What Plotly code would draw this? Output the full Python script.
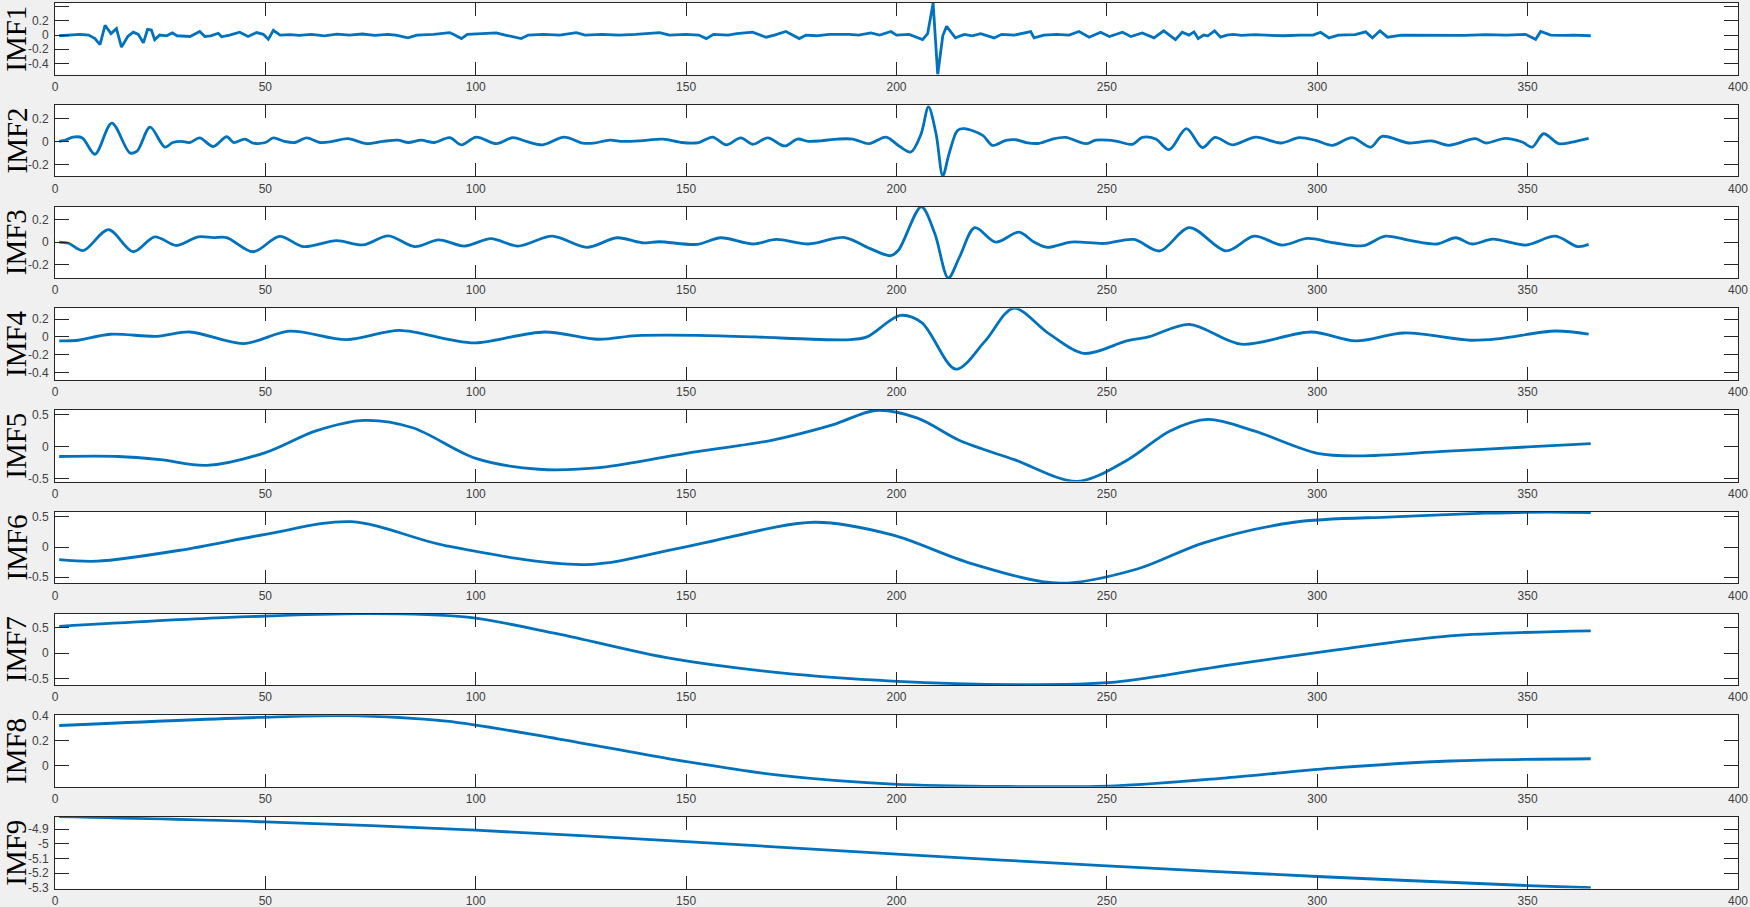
import plotly.graph_objects as go
from plotly.subplots import make_subplots

# ---- data (day index vs IMF amplitude) ----
imf_names = ["IMF1", "IMF2", "IMF3", "IMF4", "IMF5", "IMF6", "IMF7", "IMF8", "IMF9"]
x_ticks = [0, 50, 100, 150, 200, 250, 300, 350, 400]

imf1_x = [1, 4, 6, 8, 9.5, 10.7, 11.9, 13.3, 14.6, 15.8, 17.3, 18.6, 19.8, 21, 22, 22.9, 23.7, 24.9,
          26.5, 27.9, 29, 32.1, 34.4, 35.6, 37, 38.8, 39.6, 41.5, 43.9, 45.9, 47.9, 49.5, 50.7, 51.9,
          53.5, 56, 58, 61, 64, 67, 70, 73, 76, 79, 81, 83.9, 86, 90, 93.8, 95, 96.6, 98, 101, 104.9,
          107, 110.8, 112.5, 116, 120, 123.9, 126, 130, 134, 138, 143.7, 146, 150, 153, 154.8, 156.5,
          160, 162, 165.8, 169, 171, 173.7, 176.9, 178.5, 181, 184, 188.8, 191, 193.9, 196, 198.7, 200,
          203, 206.2, 207.4, 208.7, 209.8, 211, 211.9, 214, 216.1, 218, 220, 223.2, 225, 228, 231.9,
          232.7, 235, 238, 241, 243.4, 245.8, 248.5, 250.6, 253.7, 255.7, 258.4, 261.2, 263.5, 266.3,
          267.9, 269.5, 270.7, 271.7, 273, 274, 275.6, 277, 278.5, 280, 282, 285, 289, 292, 296, 299,
          300.8, 302.8, 305, 309, 311.5, 313.1, 314.9, 316.7, 320, 325, 330, 335, 340, 345, 349.5,
          351.9, 353.1, 355.5, 358.5, 361, 365]
imf1_y = [-0.01, 0.0, 0.01, 0.0, -0.05, -0.136, 0.138, 0.02, 0.09, -0.17, -0.02, 0.04, 0.01, -0.11, 0.08,
          0.07, -0.065, 0.0, -0.01, 0.03, -0.01, -0.02, 0.05, -0.02, -0.01, 0.025, -0.025, 0.0, 0.04,
          -0.02, 0.035, 0.01, -0.06, 0.066, 0.0, 0.005, -0.005, 0.01, -0.01, 0.012, 0.0, 0.015, -0.005,
          0.01, 0.0, -0.04, 0.0, 0.01, 0.035, 0.0, -0.05, 0.01, 0.02, 0.03, 0.0, -0.05, 0.0, 0.01, 0.0,
          0.035, 0.0, 0.01, 0.0, 0.01, 0.035, 0.0, 0.01, 0.0, -0.05, 0.01, 0.0, 0.02, 0.04, -0.03, 0.0,
          0.05, -0.05, 0.0, -0.01, 0.01, 0.01, 0.0, 0.03, 0.0, 0.05, 0.0, 0.01, -0.065, 0.02, 0.45,
          -0.556, -0.01, 0.123, -0.04, 0.01, -0.01, 0.02, -0.04, 0.01, 0.0, 0.05, -0.04, 0.0, 0.01, 0.0,
          0.05, -0.03, 0.04, -0.02, 0.04, -0.02, 0.03, -0.04, 0.06, -0.065, 0.04, 0.0, 0.045, -0.05, 0.0,
          -0.01, 0.06, -0.03, 0.0, 0.01, -0.005, 0.005, 0.0, -0.01, 0.0, 0.0, 0.04, -0.04, 0.0, 0.005,
          0.045, -0.04, 0.06, -0.03, 0.0, -0.005, 0.0, -0.005, 0.005, 0.0, 0.01, -0.06, 0.05, 0.0,
          -0.005, 0.0, -0.01]

imf2_x = [1, 2.5, 4.3, 6.5, 9.5, 13.5, 17.8, 19.5, 22.6, 26.1, 28, 30, 32, 34.4, 37.6, 40.8, 42.5, 45.1,
          47.1, 50, 51.9, 54.5, 57, 59.8, 63, 66, 69.7, 74, 78, 81.5, 84, 87, 90.2, 93.8, 96.6, 100.1,
          104.9, 108.8, 112, 115.9, 121, 125.4, 128, 131.8, 135, 139, 144.5, 149, 153, 156.3, 159.5,
          163, 165.9, 169.4, 173.4, 176.5, 179, 182, 186, 189.6, 193.5, 197.5, 200.6, 203.4, 205.8,
          207.6, 209.4, 211, 212.5, 214.5, 216.1, 220.5, 222.8, 226, 228.4, 230.8, 233.9, 237.1, 240.2,
          245, 247.4, 252.1, 256.1, 258.4, 261.6, 264.8, 268.9, 272.7, 275.7, 279.8, 285.4, 291.3,
          295.7, 299.6, 303.6, 308.3, 312.7, 315.4, 321.8, 327.3, 331.3, 337.6, 340, 344.7, 348.7,
          351.1, 353.8, 357.4, 360.6, 364.5]
imf2_y = [0.0, 0.01, 0.037, 0.03, -0.112, 0.158, -0.1, -0.085, 0.123, -0.05, -0.01, 0.0, -0.01, 0.03,
          -0.045, 0.04, -0.01, 0.02, -0.015, -0.01, 0.03, 0.0, -0.01, 0.03, -0.01, 0.0, 0.023, -0.02,
          0.0, 0.01, -0.01, 0.01, -0.01, 0.032, -0.03, 0.037, -0.02, 0.032, 0.0, -0.03, 0.037, -0.015,
          -0.015, 0.01, 0.0, 0.005, 0.02, -0.01, -0.01, 0.037, -0.03, 0.03, -0.025, 0.03, -0.04, 0.02,
          0.0, 0.005, 0.02, 0.02, -0.02, 0.037, -0.04, -0.092, 0.06, 0.3, 0.066, -0.3, -0.106, 0.095,
          0.11, 0.052, -0.034, 0.009, 0.014, -0.01, -0.017, 0.02, 0.034, -0.02, 0.01, 0.003, -0.026,
          0.034, 0.02, -0.072, 0.11, -0.055, 0.034, -0.03, 0.037, -0.014, 0.032, 0.009, -0.034, 0.032,
          -0.049, 0.043, -0.014, 0.003, -0.034, 0.023, -0.014, 0.026, -0.006, -0.049, 0.066, -0.02,
          -0.006, 0.026]

imf3_x = [1, 3.2, 6.7, 12.7, 18.6, 23.7, 28.9, 34, 37.6, 40.8, 47.1, 53.4, 59, 66.9, 73.2, 79.2, 85.5,
          91.2, 97.3, 103.6, 110, 118.2, 126.4, 133.6, 139.5, 143.6, 152.7, 158.2, 165.9, 171.4, 179.1,
          187.7, 193.6, 198.6, 200.5, 205.9, 209.1, 212.3, 215, 218.6, 223.6, 229.1, 232.7, 235.8,
          241.5, 249.4, 256.4, 262.6, 269.6, 278.4, 285, 291.6, 297.7, 303.9, 310.9, 316.2, 322.3,
          328.5, 332.9, 336.8, 341.7, 349.6, 356.6, 361.9, 364.5]
imf3_y = [0.0, -0.01, -0.075, 0.11, -0.085, 0.046, -0.03, 0.046, 0.04, 0.04, -0.085, 0.05, -0.04, 0.012,
          -0.025, 0.055, -0.04, 0.02, -0.035, 0.03, -0.035, 0.052, -0.046, 0.038, -0.006, 0.003, -0.02,
          0.038, -0.017, 0.023, -0.017, 0.04, -0.055, -0.12, -0.07, 0.31, 0.075, -0.316, -0.13, 0.127,
          0.0, 0.087, 0.0, -0.046, 0.0, -0.012, 0.023, -0.078, 0.127, -0.078, 0.052, -0.026, 0.032,
          -0.006, -0.032, 0.052, 0.012, -0.017, 0.038, -0.017, 0.026, -0.026, 0.052, -0.04, -0.02]

imf4_x = [1, 5, 13.1, 24.2, 32.1, 44.8, 55.8, 69.3, 81.9, 93.8, 100, 116.4, 129.1, 138.2, 152.7, 166.4,
          180, 189.1, 193, 200.9, 206, 214.1, 221, 227.8, 236.2, 244.6, 254.7, 259.9, 269.6, 281.9,
          298.6, 309.1, 320.6, 336.4, 343.4, 356.6, 364.5]
imf4_y = [-0.044, -0.04, 0.03, 0.007, 0.055, -0.074, 0.064, -0.03, 0.074, -0.03, -0.066, 0.055, -0.026,
          0.015, 0.018, 0.0, -0.026, -0.03, 0.0, 0.24, 0.16, -0.36, -0.05, 0.32, 0.037, -0.184, -0.044,
          0.0, 0.14, -0.081, 0.055, -0.044, 0.044, -0.037, -0.018, 0.066, 0.03]

imf5_x = [1, 15, 25, 36, 50, 62, 73.5, 85, 100, 115, 130, 150, 170, 185, 195, 205, 215, 228, 243, 255,
          265, 274, 285, 300, 310, 330, 350, 365]
imf5_y = [-0.15, -0.15, -0.2, -0.29, -0.09, 0.25, 0.415, 0.3, -0.18, -0.35, -0.32, -0.1, 0.1, 0.35, 0.57,
          0.45, 0.1, -0.2, -0.54, -0.2, 0.25, 0.43, 0.25, -0.1, -0.14, -0.07, 0.0, 0.05]

imf6_x = [1, 10, 30, 50, 70.4, 93, 126, 151, 180.5, 199, 217.6, 238.8, 257.4, 273, 294.5, 318, 340, 355,
          365]
imf6_y = [-0.21, -0.235, -0.05, 0.21, 0.42, 0.02, -0.29, 0.02, 0.41, 0.2, -0.27, -0.6, -0.36, 0.07, 0.41,
          0.5, 0.56, 0.58, 0.57]

imf7_x = [1, 40, 74, 98, 119.5, 146, 172.5, 199, 228, 252, 278.5, 305, 331.6, 365]
imf7_y = [0.53, 0.7, 0.78, 0.71, 0.38, -0.1, -0.39, -0.55, -0.62, -0.57, -0.24, 0.07, 0.34, 0.44]

imf8_x = [1, 48, 69, 93, 119.5, 146, 172.5, 199, 225.5, 252, 278.5, 305, 331.6, 365]
imf8_y = [0.325, 0.39, 0.405, 0.36, 0.217, 0.055, -0.08, -0.15, -0.17, -0.165, -0.1, -0.017, 0.037, 0.055]

imf9_x = [1, 50, 100, 150, 200, 250, 300, 350, 365]
imf9_y = [-4.815, -4.85, -4.907, -4.985, -5.07, -5.15, -5.223, -5.285, -5.3]

imf1_ticks = [-0.4, -0.2, 0, 0.2, 0.4]
imf2_ticks = [-0.2, 0, 0.2]
imf3_ticks = [-0.2, 0, 0.2]
imf4_ticks = [-0.4, -0.2, 0, 0.2]
imf5_ticks = [-0.5, 0, 0.5]
imf6_ticks = [-0.5, 0, 0.5]
imf7_ticks = [-0.5, 0, 0.5]
imf8_ticks = [0, 0.2, 0.4]
imf9_ticks = [-5.3, -5.2, -5.1, -5, -4.9]

series = [
    (imf1_x, imf1_y, imf1_ticks, [-0.556, 0.452], "linear"),
    (imf2_x, imf2_y, imf2_ticks, [-0.303, 0.318], "spline"),
    (imf3_x, imf3_y, imf3_ticks, [-0.316, 0.313], "spline"),
    (imf4_x, imf4_y, imf4_ticks, [-0.478, 0.32], "spline"),
    (imf5_x, imf5_y, imf5_ticks, [-0.542, 0.578], "spline"),
    (imf6_x, imf6_y, imf6_ticks, [-0.6, 0.584], "spline"),
    (imf7_x, imf7_y, imf7_ticks, [-0.628, 0.783], "spline"),
    (imf8_x, imf8_y, imf8_ticks, [-0.172, 0.408], "spline"),
    (imf9_x, imf9_y, imf9_ticks, [-5.305, -4.817], "spline"),
]

W, H = 1750, 907
M_TOP, M_BOT, M_L, M_R = 3, 18, 55, 12
PLOT_H = H - M_TOP - M_BOT
PITCH, PANEL_H = 101.75, 71.5

fig = make_subplots(rows=9, cols=1)

tick_font = dict(family="Liberation Sans, Arial, sans-serif", size=12, color="#404040")
annotations = []

for i, (xs, ys, ticks, yr, shape) in enumerate(series):
    fig.add_trace(
        go.Scatter(
            x=xs, y=ys, mode="lines",
            line=dict(color="#0072BD", width=2.8, shape=shape, smoothing=0.9),
            showlegend=False, hoverinfo="skip",
        ),
        row=i + 1, col=1,
    )
    top = i * PITCH
    d1 = 1 - top / PLOT_H
    d0 = 1 - (top + PANEL_H) / PLOT_H
    sfx = "" if i == 0 else str(i + 1)
    fig.layout["xaxis" + sfx].update(
        range=[0, 400], tickvals=x_ticks, ticktext=[str(v) for v in x_ticks],
        ticks="inside", ticklen=13, tickwidth=1, tickcolor="#262626",
        showline=True, linecolor="#262626", linewidth=1, mirror="ticks",
        showgrid=False, zeroline=False, tickfont=tick_font, ticklabelstandoff=1,
        automargin=False,
    )
    fig.layout["yaxis" + sfx].update(
        domain=[d0, d1], range=yr, tickvals=ticks,
        ticktext=["%g" % v for v in ticks],
        ticks="inside", ticklen=14, tickwidth=1, tickcolor="#262626",
        showline=True, linecolor="#262626", linewidth=1, mirror="ticks",
        showgrid=False, zeroline=False, tickfont=tick_font, ticklabelstandoff=3,
        automargin=False,
    )
    annotations.append(dict(
        text=imf_names[i], xref="paper", yref="paper",
        x=(16 - M_L) / (W - M_L - M_R), y=(d0 + d1) / 2,
        xanchor="center", yanchor="middle", textangle=-90, showarrow=False,
        font=dict(family="Liberation Serif, Times New Roman, serif", size=29, color="#000000"),
    ))

fig.update_layout(
    width=W, height=H,
    margin=dict(l=M_L, r=M_R, t=M_TOP, b=M_BOT),
    paper_bgcolor="#f0f0f0", plot_bgcolor="#ffffff",
    annotations=annotations,
)

# the page's default body margin would push the fixed-size figure off the window
fig.write_html("out.html", config={"displayModeBar": False},
               post_script="document.body.style.margin='0';")
